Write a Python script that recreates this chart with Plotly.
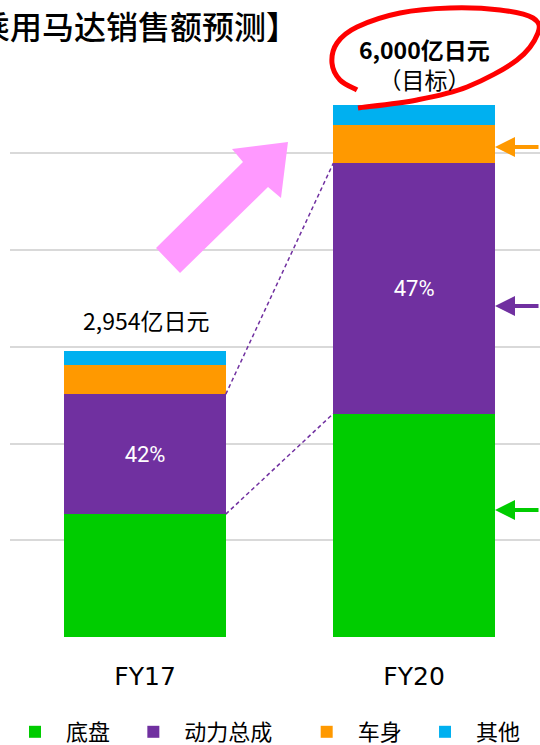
import plotly.graph_objects as go

# ---- data ----
categories = ["FY17", "FY20"]
chassis = [1270, 2310]      # 底盘
powertrain = [1240, 2590]   # 动力总成
body = [300, 390]           # 车身
other = [144, 210]          # 其他
share_labels = ["42%", "47%"]
total_labels = ["2,954亿日元", "<b>6,000亿日元</b><br>（目标）"]
series_names = ["底盘", "动力总成", "车身", "其他"]
legend_labels = ["\u2002底盘\u2002\u2004", "\u2002动力总成\u3000\u2004", "\u2002车身\u2002\u2004", "\u2002其他"]
colors = ["#00CC00", "#7030A0", "#FF9900", "#00B0F0"]

W, H = 540, 745
L, R, T, B = 10, 0, 56, 108
PW, PH = W - L - R, H - T - B

def px(x, y):
    return ((x - L) / PW, (H - B - y) / PH)

xpos = [0, 1]
fig = go.Figure()
for vals, name, col in zip([chassis, powertrain, body, other], legend_labels, colors):
    kw = {}
    if "动力总成" in name:
        kw = dict(text=share_labels, textposition="inside", insidetextanchor="middle",
                  textfont=dict(color="white", size=22, family="Roboto"))
    fig.add_trace(go.Bar(x=xpos, y=vals, name=name, marker=dict(color=col, line=dict(width=0)),
                         width=0.6, **kw))

# dashed connectors
c1 = [chassis[i] for i in range(2)]
c2 = [chassis[i] + powertrain[i] for i in range(2)]
for ys in (c1, c2):
    fig.add_trace(go.Scatter(x=[0.3, 0.7], y=ys, mode="lines", showlegend=False,
                             line=dict(color="#7030A0", width=1.5, dash="4px,3px"), hoverinfo="skip"))

totals = [chassis[i] + powertrain[i] + body[i] + other[i] for i in range(2)]
annotations = [
    dict(x=0, y=totals[0], text=total_labels[0], showarrow=False, yanchor="bottom", yshift=12, xshift=1,
         font=dict(size=23, color="black", family="Noto Sans CJK SC")),
    dict(x=1, y=totals[1], text=total_labels[1], showarrow=False, yanchor="bottom", yshift=7, xshift=10,
         font=dict(size=23, color="black", family="Noto Sans CJK SC")),
]
tx, ty = px(300, 25)
annotations.append(dict(xref="paper", yref="paper", x=tx, y=ty, xanchor="right", yanchor="middle",
                        text="【乘用马达销售额预测】", showarrow=False,
                        font=dict(size=32, color="black", family="Noto Sans CJK SC", weight=500)))
# side arrows
for yy, col in [(147, "#FF9900"), (306, "#7030A0"), (510, "#00CC00")]:
    ax_, ay_ = px(495, yy)
    annotations.append(dict(xref="paper", yref="paper", x=ax_, y=ay_, ax=60, ay=0, text="",
                            showarrow=True, arrowhead=2, arrowsize=1.0, arrowwidth=4,
                            arrowcolor=col, standoff=0))

# pink arrow
pink = [(288, 142), (232, 149), (243, 162), (156, 248), (180, 273), (268, 187), (281, 198)]
pp = [px(*p) for p in pink]
path = "M " + " L ".join(f"{a:.4f},{b:.4f}" for a, b in pp) + " Z"
shapes = [dict(type="path", xref="paper", yref="paper", path=path, fillcolor="#FF99FF",
               line=dict(width=0))]

# red hand-drawn loop
pts = [(357, 90), (340, 80), (332, 63), (337, 43), (357, 27), (400, 13), (450, 8), (500, 10),
       (533, 18), (538, 33), (517, 60), (467, 87), (417, 100), (358, 108)]
P = [px(*p) for p in pts]
d = f"M {P[0][0]:.4f},{P[0][1]:.4f}"
for i in range(len(P) - 1):
    p0 = P[i - 1] if i > 0 else P[i]
    p1, p2 = P[i], P[i + 1]
    p3 = P[i + 2] if i + 2 < len(P) else P[i + 1]
    c1x = p1[0] + (p2[0] - p0[0]) / 6; c1y = p1[1] + (p2[1] - p0[1]) / 6
    c2x = p2[0] - (p3[0] - p1[0]) / 6; c2y = p2[1] - (p3[1] - p1[1]) / 6
    d += f" C {c1x:.4f},{c1y:.4f} {c2x:.4f},{c2y:.4f} {p2[0]:.4f},{p2[1]:.4f}"
shapes.append(dict(type="path", xref="paper", yref="paper", path=d, line=dict(color="#FF0000", width=5)))

fig.update_layout(
    width=W, height=H, margin=dict(l=L, r=R, t=T, b=B, autoexpand=False),
    barmode="stack", plot_bgcolor="white", paper_bgcolor="white",
    showlegend=True,
    legend=dict(orientation="h", x=5 / PW, y=px(0, 732)[1], xanchor="left", yanchor="middle",
                font=dict(size=22, color="black", family="Noto Sans CJK SC"), traceorder="normal"),
    xaxis=dict(range=[-0.502, 1.468], tickvals=xpos, ticktext=categories, showgrid=False,
               zeroline=False, ticks="outside", ticklen=17, tickcolor="rgba(0,0,0,0)",
               tickfont=dict(size=25, color="black", family="DejaVu Sans")),
    yaxis=dict(range=[0, 6006], dtick=1000, showgrid=True, gridcolor="#D9D9D9", gridwidth=2,
               showticklabels=False, zeroline=False),
    annotations=annotations, shapes=shapes,
)
fig.write_html("out.html")
